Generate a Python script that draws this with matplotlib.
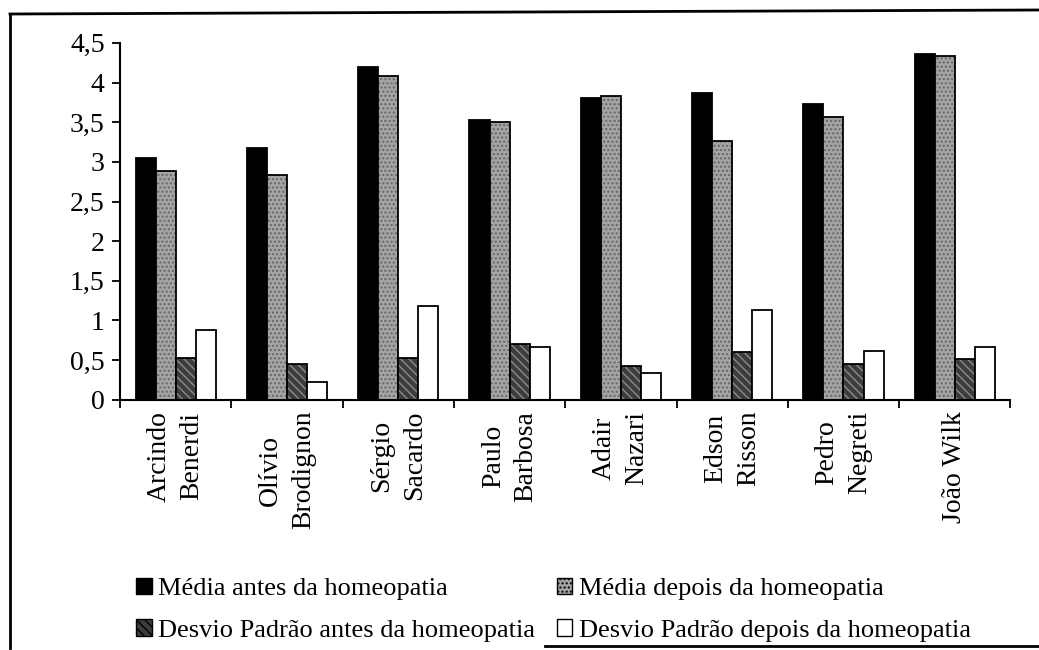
import numpy as np
import matplotlib.pyplot as plt
from matplotlib.lines import Line2D
from matplotlib.patches import Patch

plt.rcParams['font.family'] = ['Liberation Serif', 'DejaVu Serif']

nomes = ["Arcindo\nBenerdi", "Olívio\nBrodignon", "Sérgio\nSacardo", "Paulo\nBarbosa",
         "Adair\nNazari", "Edson\nRisson", "Pedro\nNegreti", "João Wilk"]
media_antes = [3.05, 3.18, 4.19, 3.53, 3.81, 3.87, 3.73, 4.36]
media_depois = [2.88, 2.83, 4.08, 3.50, 3.83, 3.26, 3.57, 4.33]
desvio_antes = [0.53, 0.45, 0.53, 0.70, 0.42, 0.60, 0.45, 0.52]
desvio_depois = [0.88, 0.22, 1.18, 0.66, 0.34, 1.13, 0.62, 0.66]
rotulos = ["Média antes da homeopatia", "Média depois da homeopatia",
           "Desvio Padrão antes da homeopatia", "Desvio Padrão depois da homeopatia"]

fig = plt.figure(figsize=(10.39, 6.5), dpi=100)
ax = fig.add_axes([0.1155, 0.385, 0.857, 0.549])

x = np.arange(len(nomes))
w = 0.18
series = [media_antes, media_depois, desvio_antes, desvio_depois]
# (face, hatch, hatch colour)
estilos = [("black", None, "black"),
           ("#a4a4a4", "....", "#666666"),
           ("#3c3c3c", "\\\\\\\\", "#8a8a8a"),
           ("white", None, "white")]

for i, (vals, (fc, h, hc)) in enumerate(zip(series, estilos)):
    pos = x + (i - 1.5) * w
    ax.bar(pos, vals, w, color=fc, hatch=h, edgecolor=hc, linewidth=0)
    ax.bar(pos, vals, w, fill=False, edgecolor="black", linewidth=1.3)

ax.set_xlim(-0.5, len(nomes) - 0.5)
ax.set_ylim(0, 4.5)
ax.set_yticks(np.arange(0, 4.51, 0.5))
ax.set_yticklabels([("%g" % v).replace(".", ",") for v in np.arange(0, 4.51, 0.5)])
ax.set_xticks(np.arange(-0.5, len(nomes)), minor=False)
ax.set_xticklabels([])
ax.set_xticks(x, minor=True)
ax.set_xticklabels(nomes, minor=True, rotation=90, multialignment="center",
                   fontsize=20, linespacing=1.4)
ax.tick_params(axis="x", which="minor", length=0, pad=8)
ax.tick_params(axis="x", which="major", direction="out", length=6, width=1.3)
ax.tick_params(axis="y", direction="out", length=6, width=1.3, labelsize=20, pad=5)
for s in ["top", "right"]:
    ax.spines[s].set_visible(False)
for s in ["left", "bottom"]:
    ax.spines[s].set_linewidth(1.5)

handles = []
for fc, h, hc in estilos:
    handles.append(Patch(facecolor=fc, hatch=h, edgecolor="black", linewidth=1))
ordem = [0, 2, 1, 3]
fig.legend([handles[k] for k in ordem], [rotulos[k] for k in ordem], ncol=2,
           loc="upper left", bbox_to_anchor=(0.108, 0.148), frameon=False,
           fontsize=19, handlelength=0.6, handleheight=0.6, handletextpad=0.25,
           columnspacing=0.8, labelspacing=0.72)

# moldura da figura escaneada
fig.add_artist(Line2D([10/1039, 10/1039], [1 - 648/650, 1 - 14/650], color="black", lw=2))
fig.add_artist(Line2D([10/1039, 1.0], [1 - 14/650, 1 - 10/650], color="black", lw=2))
fig.add_artist(Line2D([545/1039, 1.0], [1 - 646/650, 1 - 646/650], color="black", lw=2))

fig.savefig("out.png", dpi=100)
